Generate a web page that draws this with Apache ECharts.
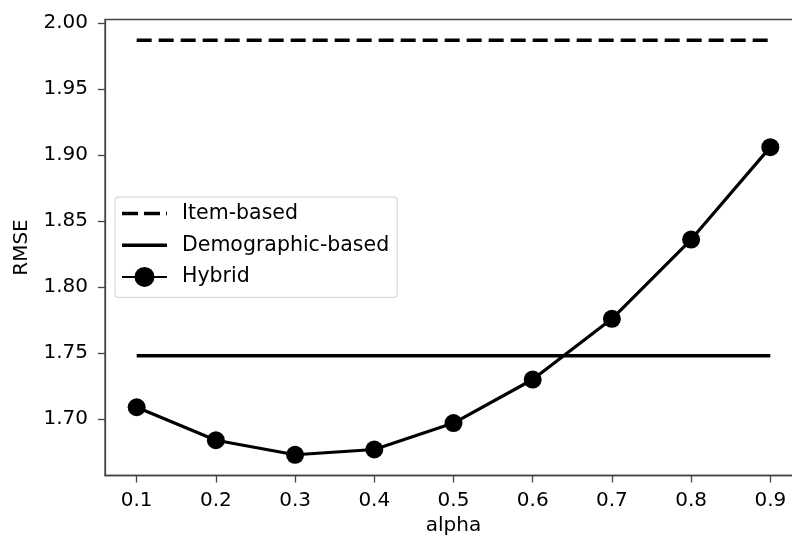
<!DOCTYPE html>
<html>
<head>
<meta charset="utf-8">
<script src="https://cdn.jsdelivr.net/npm/echarts@6/dist/echarts.min.js"></script>
<style>
html,body{margin:0;padding:0;background:#fff;}
#chart{width:792px;height:539px;}
</style>
</head>
<body>
<div id="chart"></div>
<script>
const alpha = [0.1, 0.2, 0.3, 0.4, 0.5, 0.6, 0.7, 0.8, 0.9];
const itemBased = [1.987, 1.987, 1.987, 1.987, 1.987, 1.987, 1.987, 1.987, 1.987];
const demographicBased = [1.748, 1.748, 1.748, 1.748, 1.748, 1.748, 1.748, 1.748, 1.748];
const hybrid = [1.709, 1.684, 1.673, 1.677, 1.697, 1.730, 1.776, 1.836, 1.906];
const xTicks = [0.1, 0.2, 0.3, 0.4, 0.5, 0.6, 0.7, 0.8, 0.9];
const yTicks = [1.70, 1.75, 1.80, 1.85, 1.90, 1.95, 2.00];
const seriesNames = ['Item-based', 'Demographic-based', 'Hybrid'];

const pair = (ys) => alpha.map((a, i) => [a, ys[i]]);
const FONT = 'DejaVu Sans';
const TXT = '#000';
const SPINE = '#444';

const dashIcon = 'path://M0,0h16v3.5h-16Z M22,0h16v3.5h-16Z M44,0h1v3.5h-1Z';
const solidIcon = 'path://M0,0h45v3.5h-45Z';

const chart = echarts.init(document.getElementById('chart'), null, {renderer: 'canvas'});
chart.setOption({
  animation: false,
  backgroundColor: '#fff',
  textStyle: {fontFamily: FONT},
  grid: {
    left: 105, right: -10, top: 19.5, bottom: 63.5,
    outerBoundsMode: 'none', containLabel: false,
    show: true, borderColor: SPINE, borderWidth: 1.3, backgroundColor: 'transparent'
  },
  legend: {
    orient: 'vertical',
    left: 115, top: 197,
    padding: [4, 8, 8, 6],
    itemWidth: 45, itemHeight: 25,
    itemGap: 6.7,
    borderColor: '#d0d0d0', borderWidth: 1, borderRadius: 3,
    backgroundColor: 'rgba(255,255,255,0.8)',
    textStyle: {fontFamily: FONT, fontSize: 20.5, color: TXT, lineHeight: 25, padding: [0, 0, 0, 10]},
    data: [
      {name: seriesNames[0], icon: dashIcon},
      {name: seriesNames[1], icon: solidIcon},
      {name: seriesNames[2]}
    ]
  },
  xAxis: {
    type: 'value', min: 0.06, max: 0.94,
    name: 'alpha', nameLocation: 'middle', nameGap: 35,
    nameTextStyle: {fontFamily: FONT, fontSize: 20, color: TXT},
    axisLine: {show: true, lineStyle: {color: SPINE, width: 1.3}},
    axisTick: {show: true, length: 7, customValues: xTicks, lineStyle: {color: SPINE, width: 1.3}},
    axisLabel: {customValues: xTicks, margin: 15, fontFamily: FONT, fontSize: 20, color: TXT,
      formatter: (v) => v.toFixed(1)},
    splitLine: {show: false}
  },
  yAxis: {
    type: 'value', min: 1.6573, max: 2.0027,
    name: 'RMSE', nameLocation: 'middle', nameGap: 73, nameRotate: 90,
    nameTextStyle: {fontFamily: FONT, fontSize: 20, color: TXT},
    axisLine: {show: true, lineStyle: {color: SPINE, width: 1.3}},
    axisTick: {show: true, length: 7, customValues: yTicks, lineStyle: {color: SPINE, width: 1.3}},
    axisLabel: {customValues: yTicks, margin: 17, fontFamily: FONT, fontSize: 20, color: TXT,
      formatter: (v) => v.toFixed(2)},
    splitLine: {show: false}
  },
  series: [
    {
      name: seriesNames[0], type: 'line', data: pair(itemBased),
      symbol: 'none', showSymbol: false,
      lineStyle: {color: '#000', width: 3.5, type: [15, 7]},
      itemStyle: {color: '#000', borderWidth: 0}
    },
    {
      name: seriesNames[1], type: 'line', data: pair(demographicBased),
      symbol: 'none', showSymbol: false,
      lineStyle: {color: '#000', width: 3.5, type: 'solid'},
      itemStyle: {color: '#000', borderWidth: 0}
    },
    {
      name: seriesNames[2], type: 'line', data: pair(hybrid),
      symbol: 'circle', symbolSize: 18, showSymbol: true,
      lineStyle: {color: '#000', width: 3.2},
      itemStyle: {color: '#000', borderWidth: 0}
    }
  ]
});
</script>
</body>
</html>
